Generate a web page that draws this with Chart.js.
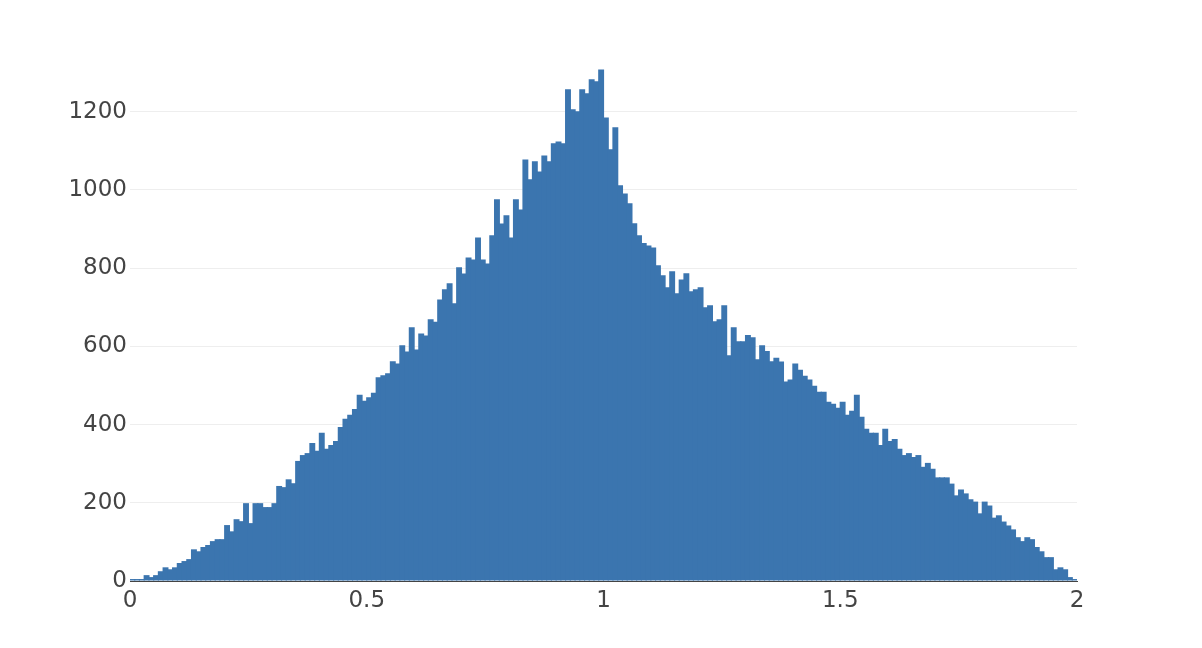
<!DOCTYPE html>
<html>
<head>
<meta charset="utf-8">
<script src="https://cdn.jsdelivr.net/npm/chart.js@4/dist/chart.umd.min.js"></script>
<style>
  html, body { margin: 0; padding: 0; background: #fff; }
  #c { display: block; }
</style>
</head>
<body>
<canvas id="c" width="1202" height="648"></canvas>
<script>
// Histogram bins: start, width, and counts per bin
const binStart = 0;
const binWidth = 0.01;
const counts = [
  5, 5, 5, 15, 10, 15, 25, 35, 30, 35,
  46, 51, 56, 81, 76, 87, 92, 102, 107, 107,
  143, 127, 158, 153, 199, 148, 199, 199, 189, 189,
  199, 243, 240, 260, 250, 307, 322, 327, 353, 333,
  379, 338, 348, 358, 394, 415, 425, 440, 476, 461,
  470, 481, 521, 526, 531, 562, 556, 603, 587, 649,
  592, 633, 628, 669, 663, 720, 746, 761, 710, 802,
  786, 827, 822, 878, 822, 812, 884, 976, 914, 935,
  878, 976, 950, 1078, 1027, 1073, 1047, 1088, 1073, 1119,
  1124, 1119, 1257, 1206, 1201, 1257, 1247, 1283, 1278, 1308,
  1185, 1104, 1160, 1012, 991, 966, 915, 884, 864, 858,
  853, 807, 782, 751, 792, 736, 771, 787, 741, 746,
  751, 700, 705, 664, 669, 705, 577, 649, 613, 613,
  629, 623, 567, 603, 588, 562, 571, 561, 510, 515,
  556, 540, 525, 515, 499, 484, 484, 458, 453, 443,
  458, 425, 435, 476, 420, 389, 379, 379, 348, 389,
  358, 363, 338, 322, 327, 317, 322, 292, 302, 287,
  265, 265, 265, 249, 219, 234, 224, 209, 203, 173,
  203, 193, 162, 168, 152, 142, 132, 112, 102, 112,
  107, 87, 76, 61, 61, 30, 35, 30, 10, 5
];
const xTickValues = [0, 0.5, 1, 1.5, 2];
const yTickValues = [0, 200, 400, 600, 800, 1000, 1200];

const points = counts.map((c, i) => ({ x: binStart + binWidth * (i + 0.5), y: c }));

const FONT = '"DejaVu Sans", "Open Sans", sans-serif';

new Chart(document.getElementById('c'), {
  type: 'bar',
  data: {
    datasets: [{
      data: points,
      backgroundColor: '#3b75af',
      borderWidth: 0,
      barPercentage: 1.25,
      categoryPercentage: 1.0
    }]
  },
  options: {
    responsive: false,
    animation: false,
    devicePixelRatio: 1,
    layout: { padding: { left: 0, right: 125, top: 44, bottom: 0 } },
    plugins: { legend: { display: false }, tooltip: { enabled: false } },
    scales: {
      x: {
        type: 'linear',
        z: 1,
        min: 0,
        max: 2,
        offset: false,
        afterBuildTicks: (s) => { s.ticks = xTickValues.map(v => ({ value: v })); },
        afterFit: (s) => { s.height = 67; },
        grid: { display: false, drawTicks: false },
        border: { display: true, color: '#444', width: 1 },
        ticks: {
          padding: 6,
          color: '#444',
          font: { family: FONT, size: 23 },
          maxRotation: 0,
          autoSkip: false,
          callback: (v) => String(v)
        }
      },
      y: {
        min: 0,
        max: 1373,
        afterBuildTicks: (s) => { s.ticks = yTickValues.map(v => ({ value: v })); },
        afterFit: (s) => { s.width = 130; },
        grid: {
          color: (ctx) => (ctx.tick && ctx.tick.value === 0 ? 'rgba(0,0,0,0)' : '#eee'),
          lineWidth: 1,
          drawTicks: false
        },
        border: { display: false },
        ticks: {
          padding: 3,
          color: '#444',
          font: { family: FONT, size: 23 },
          callback: (v) => String(v)
        }
      }
    }
  }
});
</script>
</body>
</html>
